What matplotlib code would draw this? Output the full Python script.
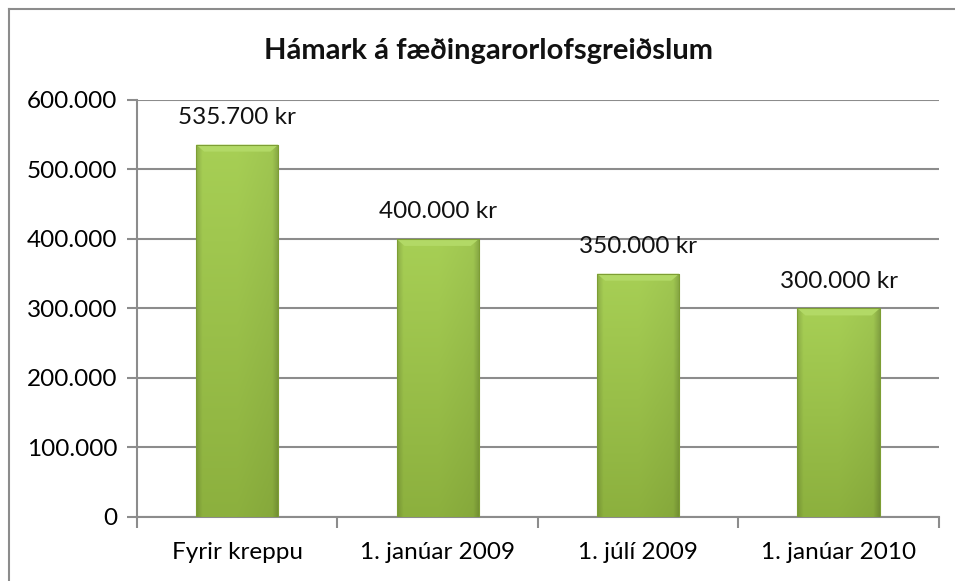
import matplotlib.pyplot as plt
import matplotlib.colors as mcolors
from matplotlib.patches import Polygon, Rectangle
from matplotlib.lines import Line2D
import numpy as np

categories = ["Fyrir kreppu", "1. janúar 2009", "1. júlí 2009", "1. janúar 2010"]
values = [535700, 400000, 350000, 300000]
labels = ["535.700 kr", "400.000 kr", "350.000 kr", "300.000 kr"]
yticks = [0, 100000, 200000, 300000, 400000, 500000, 600000]
ytick_labels = ["0", "100.000", "200.000", "300.000", "400.000", "500.000", "600.000"]

plt.rcParams['font.family'] = ['Lato', 'DejaVu Sans']
grid_col = "#8c8c8c"
fs = 17.5

fig = plt.figure(figsize=(9.55, 5.81), dpi=100)
ax = fig.add_axes([0.1435, 0.1102, 0.8395, 0.7177])

x = np.arange(len(categories))
width = 0.41
ax.set_xlim(-0.5, len(categories) - 0.5)
ax.set_ylim(0, 600000)

# gradient image for bars
top_c = np.array(mcolors.to_rgb("#a7cf55"))
bot_c = np.array(mcolors.to_rgb("#8cb03e"))
ny, nx = 200, 80
t = np.linspace(0, 1, ny)[:, None, None]
base = top_c * (1 - t) + bot_c * t
u = np.linspace(-1, 1, nx)[None, :, None]
shade = 1 - 0.15 * np.clip((np.abs(u) - 0.85) / 0.15, 0, 1) - 0.05 * np.clip(u, 0, 1)
img = np.clip(base * shade, 0, 1)

bars = ax.bar(x, values, width=width, color="#97bd47", edgecolor="none", zorder=2)
for b, v in zip(bars, values):
    x0, x1 = b.get_x(), b.get_x() + b.get_width()
    im = ax.imshow(img, extent=[x0, x1, 0, v], aspect='auto', zorder=3,
                   interpolation='bilinear')
    im.set_clip_path(b)
    dx = 0.04
    dy = 10000
    bevel = Polygon([[x0, v], [x1, v], [x1 - dx, v - dy], [x0 + dx, v - dy]],
                    closed=True, facecolor="#b2d966", edgecolor="none", zorder=4)
    ax.add_patch(bevel)
    ax.add_patch(Rectangle((x0, 0), x1 - x0, v, facecolor="none",
                           edgecolor="#7d9e34", linewidth=0.8, zorder=5))

for xi, v, lab in zip(x, values, labels):
    ax.text(xi, v + 39000, lab, ha='center', va='center', fontsize=fs, color="#111111")

ax.set_yticks(yticks)
ax.set_yticklabels(ytick_labels, fontsize=fs)
ax.yaxis.grid(True, color=grid_col, linewidth=1.5, zorder=0)
ax.set_axisbelow(True)

ax.set_xticks(np.arange(-0.5, len(categories), 1.0))
ax.set_xticklabels([])
ax.set_xticks(x, minor=True)
ax.set_xticklabels(categories, minor=True, fontsize=fs)
ax.tick_params(axis='x', which='minor', length=0, pad=18)
ax.tick_params(axis='x', which='major', length=8, width=1.5, color=grid_col)
ax.tick_params(axis='y', length=7, width=1.5, color=grid_col, pad=7)

for s in ['top', 'right']:
    ax.spines[s].set_visible(False)
for s in ['left', 'bottom']:
    ax.spines[s].set_color(grid_col)
    ax.spines[s].set_linewidth(1.5)

fig.text(0.511, 0.912, "Hámark á fæðingarorlofsgreiðslum", ha='center', va='center',
         fontsize=21, fontweight='bold', color="#111111")

# outer frame (left and top edges visible)
fx = 8.5 / 955
fy = 1 - 8.5 / 581
fig.add_artist(Line2D([fx, fx], [0, fy], transform=fig.transFigure, color=grid_col, lw=1.5))
fig.add_artist(Line2D([fx, 1], [fy, fy], transform=fig.transFigure, color=grid_col, lw=1.5))

fig.savefig("out.png", dpi=100)
